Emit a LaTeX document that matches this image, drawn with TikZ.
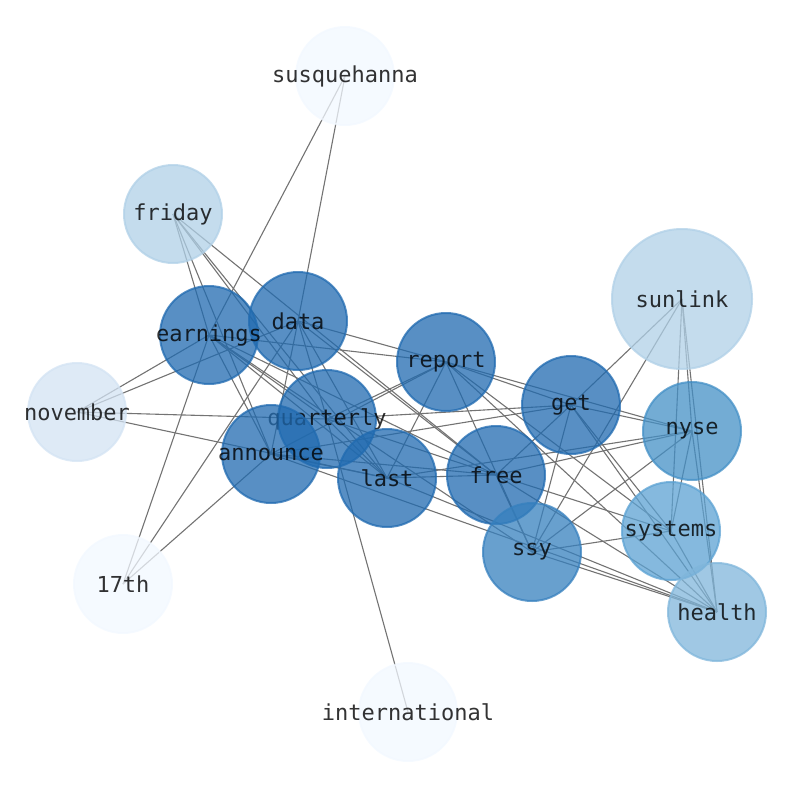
\documentclass[tikz,border=0pt]{standalone}
\usepackage{fontspec}
\setmonofont{DejaVu Sans Mono}
\pgfdeclarelayer{edgelayer}
\pgfsetlayers{edgelayer,main}
\definecolor{cdark}{RGB}{32,106,176}
\definecolor{cssy}{RGB}{54,128,190}
\definecolor{cnyse}{RGB}{68,144,198}
\definecolor{csys}{RGB}{92,162,211}
\definecolor{cheal}{RGB}{128,182,219}
\definecolor{clight}{RGB}{176,208,231}
\definecolor{cnov}{RGB}{211,227,243}
\definecolor{cpale}{RGB}{242,248,255}
\begin{document}
\begin{tikzpicture}[x=1pt,y=-1pt,
  lbl/.style={text opacity=0.8, text=black, inner sep=0pt,
    font=\fontsize{22}{24}\selectfont\ttfamily},
  nd/.style={circle, minimum size=98pt, inner sep=0pt, line width=2pt,
    fill=#1, draw=#1, fill opacity=0.75, draw opacity=0.75},
  bignd/.style={nd=#1, minimum size=140pt},
  edge/.style={draw=black!55, line width=1.1pt}]
\useasboundingbox (0,0) rectangle (794,790);
\node[nd=cpale, label={[lbl]center:susquehanna}] (susquehanna) at (345,76) {};
\node[nd=clight, label={[lbl]center:friday}] (friday) at (173,214) {};
\node[bignd=clight, label={[lbl]center:sunlink}] (sunlink) at (682,299) {};
\node[nd=cdark, label={[lbl]center:data}] (data) at (298,321) {};
\node[nd=cdark, label={[lbl]center:earnings}] (earnings) at (209,335) {};
\node[nd=cdark, label={[lbl]center:report}] (report) at (446,362) {};
\node[nd=cnov, label={[lbl]center:november}] (november) at (77,412) {};
\node[nd=cdark, label={[lbl]center:get}] (get) at (571,405) {};
\node[nd=cnyse, label={[lbl]center:nyse}] (nyse) at (692,431) {};
\node[nd=cdark, label={[lbl]center:quarterly}] (quarterly) at (327,419) {};
\node[nd=cdark, label={[lbl]center:announce}] (announce) at (271,454) {};
\node[nd=cdark, label={[lbl]center:last}] (last) at (387,478) {};
\node[nd=cdark, label={[lbl]center:free}] (free) at (496,475) {};
\node[nd=csys, label={[lbl]center:systems}] (systems) at (671,531) {};
\node[nd=cssy, label={[lbl]center:ssy}] (ssy) at (532,552) {};
\node[nd=cpale, label={[lbl]center:17th}] (17th) at (123,584) {};
\node[nd=cheal, label={[lbl]center:health}] (health) at (717,612) {};
\node[nd=cpale, label={[lbl]center:international}] (international) at (408,712) {};
\begin{pgfonlayer}{edgelayer}
\foreach \a/\b in {susquehanna/earnings, susquehanna/data,
  17th/earnings, 17th/data, 17th/announce,
  november/earnings, november/data, november/quarterly, november/last,
  international/quarterly,
  friday/earnings, friday/announce, friday/quarterly, friday/last, friday/free,
  sunlink/get, sunlink/ssy, sunlink/systems, sunlink/nyse, sunlink/health,
  nyse/report, nyse/get, nyse/last, nyse/free, nyse/ssy, nyse/systems, nyse/health,
  systems/report, systems/free, systems/ssy, systems/get, systems/health,
  health/get, health/ssy, health/last, health/free, health/announce, health/report,
  get/quarterly, get/announce, get/report, get/free, get/ssy,
  report/data, report/earnings, report/quarterly, report/announce, report/last, report/ssy,
  data/quarterly, data/last, data/announce, data/free,
  earnings/quarterly, earnings/last, earnings/announce, earnings/free, earnings/ssy,
  quarterly/last, quarterly/free,
  announce/last, announce/free,
  last/free, free/ssy}
  \draw[edge] (\a.center) -- (\b.center);
\end{pgfonlayer}
\end{tikzpicture}
\end{document}
